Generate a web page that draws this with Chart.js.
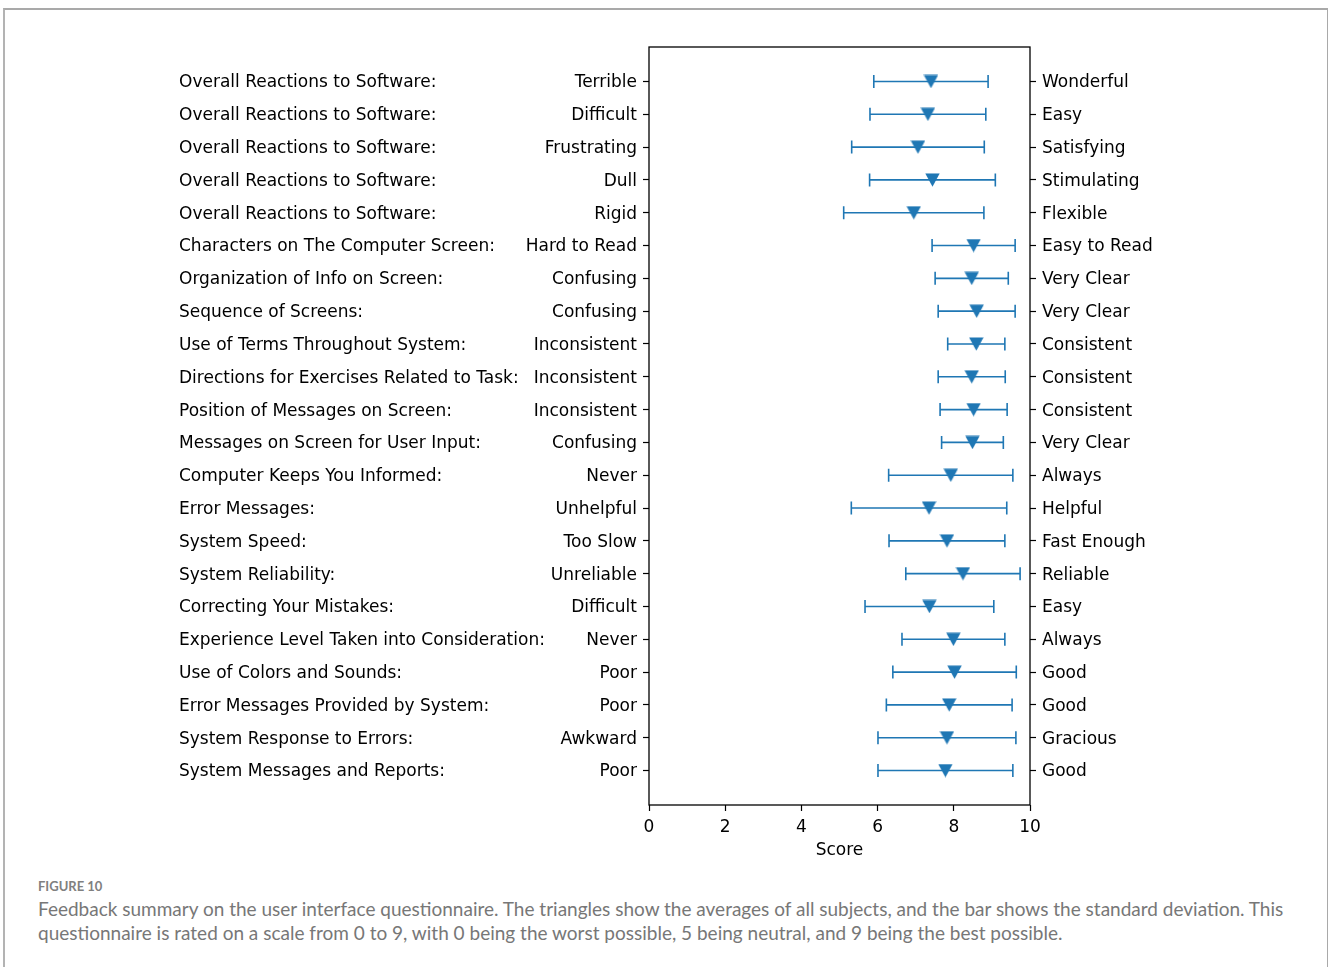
<!DOCTYPE html>
<html>
<head>
<meta charset="utf-8">
<script src="https://cdn.jsdelivr.net/npm/chart.js@4.4.1/dist/chart.umd.min.js"></script>
<style>
  html, body { margin: 0; padding: 0; background: #fff; }
  body { width: 1328px; height: 967px; position: relative; overflow: hidden; }
  #frame {
    position: absolute; left: 3px; top: 8px; width: 1322px; height: 970px;
    border-top: 2px solid #a9a9a9; border-left: 2px solid #b3b3b3; border-right: 2px solid #a9a9a9;
  }
  #chart { position: absolute; left: 0; top: 0; }
  #figlabel {
    position: absolute; left: 38px; top: 878px;
    font-family: Lato, "Open Sans", sans-serif; font-size: 13px; font-weight: 700;
    color: #808080;
  }
  #caption {
    position: absolute; left: 38px; top: 897px; width: 1280px;
    font-family: Lato, "Open Sans", sans-serif; font-size: 19px; line-height: 24px;
    color: #777; white-space: nowrap;
  }
</style>
</head>
<body>
<div id="frame"></div>
<canvas id="chart" width="1328" height="870"></canvas>
<div id="figlabel">FIGURE 10</div>
<div id="caption">Feedback summary on the user interface questionnaire. The triangles show the averages of all subjects, and the bar shows the standard deviation. This<br>questionnaire is rated on a scale from 0 to 9, with 0 being the worst possible, 5 being neutral, and 9 being the best possible.</div>
<script>
// Questionnaire items (top to bottom)
const prompts = [
  "Overall Reactions to Software:",
  "Overall Reactions to Software:",
  "Overall Reactions to Software:",
  "Overall Reactions to Software:",
  "Overall Reactions to Software:",
  "Characters on The Computer Screen:",
  "Organization of Info on Screen:",
  "Sequence of Screens:",
  "Use of Terms Throughout System:",
  "Directions for Exercises Related to Task:",
  "Position of Messages on Screen:",
  "Messages on Screen for User Input:",
  "Computer Keeps You Informed:",
  "Error Messages:",
  "System Speed:",
  "System Reliability:",
  "Correcting Your Mistakes:",
  "Experience Level Taken into Consideration:",
  "Use of Colors and Sounds:",
  "Error Messages Provided by System:",
  "System Response to Errors:",
  "System Messages and Reports:"
];
// Scale anchors: worst end (left) and best end (right)
const lowLabels = [
  "Terrible", "Difficult", "Frustrating", "Dull", "Rigid", "Hard to Read",
  "Confusing", "Confusing", "Inconsistent", "Inconsistent", "Inconsistent",
  "Confusing", "Never", "Unhelpful", "Too Slow", "Unreliable", "Difficult",
  "Never", "Poor", "Poor", "Awkward", "Poor"
];
const highLabels = [
  "Wonderful", "Easy", "Satisfying", "Stimulating", "Flexible", "Easy to Read",
  "Very Clear", "Very Clear", "Consistent", "Consistent", "Consistent",
  "Very Clear", "Always", "Helpful", "Fast Enough", "Reliable", "Easy",
  "Always", "Good", "Good", "Gracious", "Good"
];
// Mean score and standard deviation per item
const means = [
  7.40, 7.32, 7.06, 7.44, 6.95, 8.52, 8.47, 8.60, 8.59, 8.47, 8.52,
  8.49, 7.92, 7.35, 7.82, 8.24, 7.36, 7.99, 8.02, 7.88, 7.82, 7.78
];
const sds = [
  1.50, 1.52, 1.74, 1.65, 1.84, 1.09, 0.96, 1.01, 0.75, 0.88, 0.88,
  0.81, 1.63, 2.04, 1.52, 1.50, 1.69, 1.35, 1.62, 1.65, 1.81, 1.77
];
const xTicks = [0, 2, 4, 6, 8, 10];

const BLUE = '#1f77b4';
const FONT_FAMILY = '"DejaVu Sans", sans-serif';
const TICK_FONT = { family: FONT_FAMILY, size: 17 };
const LABEL_SHIFT = 1.5;   // nudge so the glyphs sit centred on the ticks

// Downward triangle marker, centred on its bounding box
const marker = document.createElement('canvas');
marker.width = 15; marker.height = 14;
(function () {
  const c = marker.getContext('2d');
  c.fillStyle = BLUE;
  c.beginPath();
  c.moveTo(0.3, 0.5);
  c.lineTo(14.7, 0.5);
  c.lineTo(7.5, 13.8);
  c.closePath();
  c.fill();
})();

const rowTicks = (axis) => { axis.ticks = prompts.map((_, i) => ({ value: i })); };

// Horizontal std-dev bars with end caps, drawn under the markers
const errorBars = {
  id: 'errorBars',
  beforeDatasetsDraw(chart) {
    const { ctx, scales: { x, y } } = chart;
    ctx.save();
    ctx.strokeStyle = BLUE;
    ctx.lineWidth = 1.6;
    means.forEach((m, i) => {
      const x0 = x.getPixelForValue(m - sds[i]);
      const x1 = x.getPixelForValue(m + sds[i]);
      const py = y.getPixelForValue(i);
      ctx.beginPath();
      ctx.moveTo(x0, py); ctx.lineTo(x1, py);
      ctx.moveTo(x0, py - 6.5); ctx.lineTo(x0, py + 6.5);
      ctx.moveTo(x1, py - 6.5); ctx.lineTo(x1, py + 6.5);
      ctx.stroke();
    });
    ctx.restore();
  }
};

// Item names in a left-aligned column, placed on the row positions of the y scale
const promptColumn = {
  id: 'promptColumn',
  afterDraw(chart) {
    const { ctx, scales: { y } } = chart;
    ctx.save();
    ctx.font = `${TICK_FONT.size}px ${FONT_FAMILY}`;
    ctx.fillStyle = '#000';
    ctx.textAlign = 'left';
    ctx.textBaseline = 'middle';
    prompts.forEach((p, i) => {
      ctx.fillText(p, 179, y.getPixelForValue(i) + LABEL_SHIFT);
    });
    ctx.restore();
  }
};

// Box around the plotting area
const frameBox = {
  id: 'frameBox',
  afterDraw(chart) {
    const { ctx, chartArea: a } = chart;
    ctx.save();
    ctx.strokeStyle = '#000';
    ctx.lineWidth = 1.3;
    ctx.strokeRect(a.left, a.top, a.right - a.left, a.bottom - a.top);
    ctx.restore();
  }
};

const rowAxisBase = {
  type: 'linear',
  min: -1.05,
  max: 22.05,
  reverse: true,
  afterBuildTicks: rowTicks,
  border: { display: false },
  grid: { drawOnChartArea: false, drawTicks: true, tickLength: 6, tickColor: '#000', tickWidth: 1.2 },
};

new Chart(document.getElementById('chart'), {
  type: 'scatter',
  data: {
    datasets: [{
      data: means.map((m, i) => ({ x: m, y: i })),
      pointStyle: marker,
      pointRadius: 7,
      pointHoverRadius: 7,
    }]
  },
  options: {
    responsive: false,
    devicePixelRatio: 1,
    animation: false,
    events: [],
    layout: { padding: { left: 519, top: 47, right: 138, bottom: 7 } },
    plugins: { legend: { display: false }, tooltip: { enabled: false } },
    scales: {
      x: {
        type: 'linear',
        position: 'bottom',
        min: 0, max: 10,
        afterBuildTicks: (axis) => { axis.ticks = xTicks.map(v => ({ value: v })); },
        afterFit: (axis) => { axis.height = 58; },
        border: { display: false },
        grid: { drawOnChartArea: false, drawTicks: true, tickLength: 6, tickColor: '#000', tickWidth: 1.2 },
        ticks: { font: TICK_FONT, color: '#000', padding: 6, maxRotation: 0 },
        title: { display: true, text: 'Score', font: TICK_FONT, color: '#000', padding: { top: 0, bottom: 2 } }
      },
      y: Object.assign({}, rowAxisBase, {
        position: 'left',
        afterFit: (axis) => { axis.width = 130; },
        ticks: { font: TICK_FONT, color: '#000', padding: 6, autoSkip: false, crossAlign: 'near',
                 labelOffset: LABEL_SHIFT, callback: (v) => lowLabels[v] }
      }),
      yRight: Object.assign({}, rowAxisBase, {
        position: 'right',
        afterFit: (axis) => { axis.width = 160; },
        ticks: { font: TICK_FONT, color: '#000', padding: 6, autoSkip: false,
                 labelOffset: LABEL_SHIFT, callback: (v) => highLabels[v] }
      })
    }
  },
  plugins: [errorBars, promptColumn, frameBox]
});
</script>
</body>
</html>
